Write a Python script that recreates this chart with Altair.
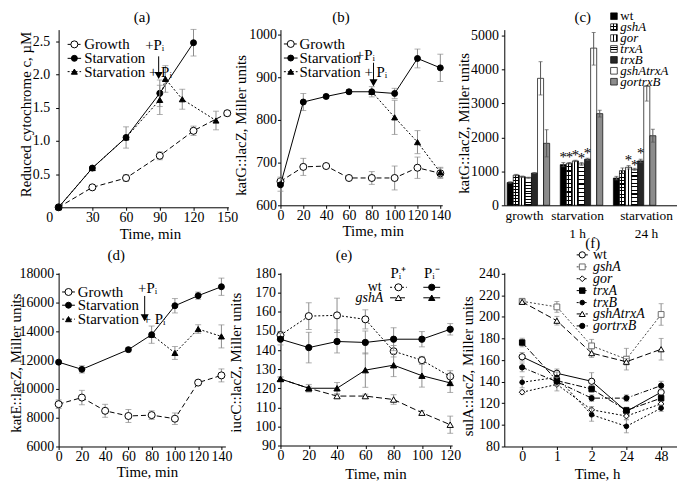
import json
import altair as alt
import pandas as pd

FONT = "Liberation Serif"
PI = "P\u1d62"
EB = "#8c8c8c"
EB_C = "#555555"

# ---------------- panel (a) ----------------
A_T_GROWTH = [0, 30, 60, 90, 120, 150]
A_GROWTH = [0.0, 0.30, 0.44, 0.775, 1.15, 1.415]
A_GROWTH_ERR = [0, 0.02, 0.05, 0.06, 0.07, 0.04]
A_T_STARV = [0, 30, 60, 90, 120]
A_STARV = [0.0, 0.59, 1.05, 1.715, 2.475]
A_STARV_ERR = [0, 0.02, 0.16, 0.20, 0.20]
A_T_STARVP = [0, 30, 60, 90, 95, 110, 140]
A_STARVP = [0.0, 0.59, 1.05, 1.615, 1.93, 1.625, 1.305]
A_STARVP_ERR = [0, 0, 0, 0.22, 0.20, 0.15, 0.14]

# ---------------- panel (b) ----------------
B_T = [0, 20, 40, 60, 80, 100, 120, 140]
B_GROWTH = [656, 690, 692, 664, 664, 664, 688, 675]
B_GROWTH_ERR = [10, 20, 5, 4, 15, 28, 25, 12]
B_STARV = [648, 842, 855, 866, 866, 862, 944, 922]
B_STARV_ERR = [15, 20, 5, 5, 12, 12, 22, 32]
B_T_STARVP = [80, 100, 120, 140]
B_STARVP = [866, 806, 748, 677]
B_STARVP_ERR = [0, 40, 27, 12]

# ---------------- panel (c) ----------------
C_GROUPS = ["growth", "starvation|1 h", "starvation|24 h"]
C_GENOS = ["wt", "gshA", "gor", "trxA", "trxB", "gshAtrxA", "gortrxB"]
C_WT = [673, 1198, 802]
C_GSHA = [891, 1238, 1020]
C_GOR = [842, 1307, 1119]
C_TRXA = [812, 1218, 1059]
C_TRXB = [950, 1356, 1307]
C_GSHATRXA = [3740, 4630, 3510]
C_GORTRXB = [1826, 2700, 2050]
C_WT_ERR = [20, 60, 50]
C_GSHA_ERR = [20, 25, 80]
C_GOR_ERR = [20, 20, 50]
C_TRXA_ERR = [15, 40, 30]
C_TRXB_ERR = [15, 30, 50]
C_GSHATRXA_ERR_LO = [490, 500, 440]
C_GSHATRXA_ERR_HI = [490, 460, 10]
C_GORTRXB_ERR = [400, 100, 190]
C_STAR_GROUP = ["starvation|1 h"] * 5 + ["starvation|24 h"] * 3
C_STAR_GENO = ["wt", "gshA", "gor", "trxA", "trxB", "gor", "trxA", "trxB"]
C_STAR_Y = [1515, 1515, 1554, 1475, 1614, 1416, 1287, 1614]
C_LEG_Y = [5570, 5248, 4927, 4605, 4284, 3962, 3640]

# ---------------- panel (d) ----------------
D_T = [0, 20, 40, 60, 80, 100, 120, 140]
D_GROWTH = [8940, 9400, 8480, 8120, 8180, 7930, 10440, 10940]
D_GROWTH_ERR = [300, 500, 450, 450, 300, 400, 150, 450]
D_T_STARV = [0, 20, 60, 80, 100, 120, 140]
D_STARV = [11860, 11360, 12730, 13770, 15780, 16480, 17100]
D_STARV_ERR = [100, 250, 150, 600, 500, 250, 600]
D_T_STARVP = [80, 100, 120, 140]
D_STARVP = [13770, 12500, 14160, 13650]
D_STARVP_ERR = [0, 450, 300, 800]

# ---------------- panel (e) ----------------
E_T = [0, 20, 40, 60, 80, 100, 120]
E_WT_P = [147.8, 157.8, 158.2, 156.1, 139.4, 134.7, 126.2]
E_WT_P_ERR = [2, 7, 9, 5, 3, 2, 3]
E_WT_M = [145.7, 141.3, 144.5, 144.0, 145.7, 145.7, 150.9]
E_WT_M_ERR = [3, 8, 6, 6, 6, 4, 3]
E_GSH_P = [124.9, 120.0, 115.9, 115.9, 114.1, 107.2, 100.9]
E_GSH_P_ERR = [1, 1, 1, 1, 2.5, 1, 4.5]
E_GSH_M = [124.9, 120.0, 120.0, 129.5, 132.1, 126.6, 122.8]
E_GSH_M_ERR = [1, 2, 3, 9, 6, 6, 5]

# ---------------- panel (f) ----------------
F_X = [0, 1, 2, 3, 4]
F_LABELS = ["0", "1", "2", "24", "48"]
F_NAMES = ["wt", "gshA", "gor", "trxA", "trxB", "gshAtrxA", "gortrxB"]
F_WT = [163.1, 147.8, 140.4, 112.5, 130.3]
F_GSHA = [214.5, 209.3, 173.2, 160.9, 202.3]
F_GOR = [130.3, 137.5, 114.0, 108.2, 119.5]
F_TRXA = [176.3, 141.0, 133.3, 113.4, 124.8]
F_TRXB = [139.5, 144.0, 109.4, 98.7, 115.5]
F_GSHATRXA = [214.0, 196.5, 166.5, 158.5, 170.1]
F_GORTRXB = [153.3, 140.0, 124.8, 124.8, 136.4]
F_WT_ERR = [4, 4, 8, 3, 4]
F_GSHA_ERR = [2, 5, 6, 10, 10]
F_GOR_ERR = [2, 6, 3, 3, 3]
F_TRXA_ERR = [4, 4, 3, 3, 3]
F_TRXB_ERR = [5, 5, 6, 6, 3]
F_GSHATRXA_ERR = [2, 4, 4, 3, 10]
F_GORTRXB_ERR = [4, 4, 3, 3, 4]
F_LEG_Y = [257.5, 246.4, 235.4, 224.4, 213.3, 202.8, 191.7]

# ---------------- styles ----------------
S_GROWTH = dict(dash=[5, 3], shape="circle", fill="white", stroke="black", size=50)
S_STARV = dict(dash=None, shape="circle", fill="black", stroke="black", size=36)
S_STARVP = dict(dash=[2, 2], shape="triangle-up", fill="black", stroke="black", size=36)


def stripes(n, along_y, light="white", dark="black", duty=0.35):
    stops = []
    for i in range(n):
        a = i / n
        m = (i + 1 - duty) / n
        b = (i + 1) / n
        stops += [alt.GradientStop(offset=a, color=light), alt.GradientStop(offset=m, color=light),
                  alt.GradientStop(offset=m, color=dark), alt.GradientStop(offset=b, color=dark)]
    return alt.LinearGradient(gradient="linear", stops=stops, x1=0, y1=0,
                              x2=0 if along_y else 1, y2=1 if along_y else 0)


def xq(scale, axis):
    return lambda f: alt.X(f"{f}:Q", scale=scale, axis=axis)


def yq(scale, axis):
    return lambda f: alt.Y(f"{f}:Q", scale=scale, axis=axis)


def series(t, y, err, st, X, Y, cap=6):
    df = pd.DataFrame({"t": t, "y": y, "e": err})
    base = alt.Chart(df)
    eb = base.transform_filter("datum.e > 0").transform_calculate(
        lo="datum.y - datum.e", hi="datum.y + datum.e")
    out = [eb.mark_rule(color=EB, strokeWidth=1).encode(x=X("t"), y=Y("lo"), y2="hi:Q")]
    for f in ("lo", "hi"):
        out.append(eb.mark_tick(color=EB, size=cap, thickness=1, orient="horizontal")
                   .encode(x=X("t"), y=Y(f)))
    kw = {"color": st.get("line", "black"), "strokeWidth": 1}
    if st.get("dash"):
        kw["strokeDash"] = st["dash"]
    out.append(base.mark_line(**kw).encode(x=X("t"), y=Y("y")))
    out.append(base.mark_point(shape=st["shape"], filled=True, fill=st["fill"], stroke=st["stroke"],
                               strokeWidth=1, size=st["size"], opacity=1)
               .encode(x=X("t"), y=Y("y")))
    return out


def legend_entry(x0, x1, y, st, X, Y, xt=None, label=None, fs=15, italic=False):
    df = pd.DataFrame({"x0": [x0], "x1": [x1], "xm": [(x0 + x1) / 2], "xt": [xt], "y": [y],
                       "label": [label or ""]})
    base = alt.Chart(df)
    kw = {"color": st.get("line", "black"), "strokeWidth": 1}
    if st.get("dash"):
        kw["strokeDash"] = st["dash"]
    out = [base.mark_rule(**kw).encode(x=X("x0"), x2="x1:Q", y=Y("y")),
           base.mark_point(shape=st["shape"], filled=True, fill=st["fill"], stroke=st["stroke"],
                           strokeWidth=1, size=st["size"], opacity=1).encode(x=X("xm"), y=Y("y"))]
    if label:
        out.append(base.mark_text(align="left", baseline="middle", fontSize=fs, font=FONT,
                                  fontStyle="italic" if italic else "normal", fill="black")
                   .encode(x=X("xt"), y=Y("y"), text="label:N"))
    return out


def text_at(x, y, text, X, Y, fs=15, align="left", italic=False, dy=0):
    df = pd.DataFrame({"x": [x], "y": [y], "label": [text]})
    return alt.Chart(df).mark_text(align=align, baseline="middle", fontSize=fs, font=FONT, dy=dy,
                                   fontStyle="italic" if italic else "normal", fill="black") \
        .encode(x=X("x"), y=Y("y"), text="label:N")


def arrow(x, y0, y1, X, Y):
    df = pd.DataFrame({"x": [x], "y0": [y0], "y1": [y1]})
    b = alt.Chart(df)
    return [b.mark_rule(color="black", strokeWidth=1).encode(x=X("x"), y=Y("y0"), y2="y1:Q"),
            b.mark_point(shape="triangle-down", filled=True, fill="black", stroke="black",
                         size=22, opacity=1).encode(x=X("x"), y=Y("y1"))]


def yaxis(values, title, tx, ty, pad, fmt="d"):
    return alt.Axis(values=values, format=fmt, title=title, titleX=tx, titleY=ty, orient="left",
                    titleBaseline="middle", titleAlign="center", labelPadding=pad)


def xaxis(values, title, tx, ty, label_expr=None):
    kw = dict(values=values, title=title, titleX=tx, titleY=ty, titleBaseline="middle", orient="bottom",
              titleAlign="center", labelPadding=0, labelAngle=0)
    if label_expr:
        kw["labelExpr"] = label_expr
    return alt.Axis(**kw)


# ================= (a) =================
A_W, A_H = 171, 179
A_TOP = 2.672
X = xq(alt.Scale(domain=[0, 151], nice=False, zero=False),
       xaxis([0, 30, 60, 90, 120, 150], "Time, min", 92, 26, "datum.value == 0 ? '' : datum.label"))
Y = yq(alt.Scale(domain=[0, A_TOP], nice=False),
       yaxis([0.5, 1.0, 1.5, 2.0, 2.5], "Reduced cytochrome c, \u00b5M", -33, 85, 6, ".1f"))
layers = []
layers += series(A_T_GROWTH, A_GROWTH, A_GROWTH_ERR, S_GROWTH, X, Y)
layers += series(A_T_STARV, A_STARV, A_STARV_ERR, S_STARV, X, Y)
layers += series(A_T_STARVP, A_STARVP, A_STARVP_ERR, S_STARVP, X, Y)
for lab, yy, st in zip(["Growth", "Starvation", "Starvation + " + PI], [2.45, 2.24, 2.04],
                       [S_GROWTH, S_STARV, S_STARVP]):
    layers += legend_entry(8, 20, yy, st, X, Y, xt=22.7, label=lab)
layers.append(text_at(77, 2.44, "+" + PI, X, Y))
layers += arrow(89, 2.27, 1.99, X, Y)
layers.append(text_at(-8, 0, "0", X, Y, fs=14, align="center", dy=11))
layers.append(text_at(74.2, A_TOP, "(a)", X, Y, align="center", dy=-12.5))
panel_a = alt.layer(*layers).properties(width=A_W, height=A_H)

# ================= (b) =================
B_W, B_H = 163, 177
B_TOP = 1011.6
X = xq(alt.Scale(domain=[0, 141.7], nice=False, zero=False),
       xaxis(B_T, "Time, min", 93, 25))
Y = yq(alt.Scale(domain=[600, B_TOP], nice=False, zero=False),
       yaxis([600, 700, 800, 900, 1000], "katG::lacZ, Miller units", -40, 96, 1))
layers = []
layers += series(B_T, B_GROWTH, B_GROWTH_ERR, S_GROWTH, X, Y)
layers += series(B_T, B_STARV, B_STARV_ERR, S_STARV, X, Y)
layers += series(B_T_STARVP, B_STARVP, B_STARVP_ERR, S_STARVP, X, Y)
for lab, yy, st in zip(["Growth", "Starvation", "Starvation + " + PI], [978, 945, 913],
                       [S_GROWTH, S_STARV, S_STARVP]):
    layers += legend_entry(3, 15, yy, st, X, Y, xt=16.7, label=lab)
layers.append(text_at(66, 953, "+" + PI, X, Y))
layers += arrow(81.5, 934, 888, X, Y)
layers.append(text_at(53, B_TOP, "(b)", X, Y, align="center", dy=-12.5))
panel_b = alt.layer(*layers).properties(width=B_W, height=B_H)

# ================= (c) =================
C_W, C_H = 174, 177
C_TOP = 5175
C_VALS = [C_WT, C_GSHA, C_GOR, C_TRXA, C_TRXB, C_GSHATRXA, C_GORTRXB]
C_LO = [C_WT_ERR, C_GSHA_ERR, C_GOR_ERR, C_TRXA_ERR, C_TRXB_ERR, C_GSHATRXA_ERR_LO, C_GORTRXB_ERR]
C_HI = [C_WT_ERR, C_GSHA_ERR, C_GOR_ERR, C_TRXA_ERR, C_TRXB_ERR, C_GSHATRXA_ERR_HI, C_GORTRXB_ERR]
# bar fills (hatch patterns approximated with striped gradients)
C_BAR_FILL = {
    "wt": ["black"],
    "gshA": [stripes(2, False), stripes(10, True, light="rgba(0,0,0,0)", duty=0.3)],
    "gor": [stripes(2, False)],
    "trxA": [stripes(10, True, duty=0.3)],
    "trxB": ["#262626"],
    "gshAtrxA": ["white"],
    "gortrxB": ["#8c8c8c"],
}
C_LEG_FILL = {
    "wt": ["black"],
    "gshA": [stripes(2, False), stripes(2, True, light="rgba(0,0,0,0)", duty=0.3)],
    "gor": [stripes(2, False)],
    "trxA": [stripes(3, True, duty=0.3)],
    "trxB": ["#262626"],
    "gshAtrxA": ["white"],
    "gortrxB": ["#8c8c8c"],
}
rows = []
for gi, g in enumerate(C_GROUPS):
    for geno, vals, lo, hi in zip(C_GENOS, C_VALS, C_LO, C_HI):
        rows.append({"group": g, "geno": geno, "v": vals[gi],
                     "lo": vals[gi] - lo[gi], "hi": vals[gi] + hi[gi]})
cdf = pd.DataFrame(rows)
cx_axis = alt.Axis(title=None, labelExpr="split(datum.label, '|')", tickSize=0, labelPadding=3,
                   labelLineHeight=18, labelAngle=0, labelFontSize=13.5, orient="bottom",
                   labelOffset={"condition": {"test": "datum.value == 'starvation|24 h'", "value": 12},
                                "value": -4})
CX = alt.X("group:N", sort=C_GROUPS,
           scale=alt.Scale(domain=C_GROUPS, paddingInner=0.2, paddingOuter=0.226, align=0.12),
           axis=cx_axis)
CXO = alt.XOffset("geno:N", sort=C_GENOS, scale=alt.Scale(domain=C_GENOS))
cy_axis = yaxis([0, 1000, 2000, 3000, 4000, 5000], "katG::lacZ, Miller units", -41, 94, 3)
CYS = alt.Scale(domain=[0, C_TOP], nice=False)
CY = lambda f: alt.Y(f"{f}:Q", scale=CYS, axis=cy_axis)
bar_layers = []
for geno in C_GENOS:
    fills = C_BAR_FILL[geno]
    for k, fl in enumerate(fills):
        bar_layers.append(
            alt.Chart(cdf).transform_filter(alt.datum.geno == geno).mark_bar(
                fill=fl, stroke="black" if k == len(fills) - 1 else None, strokeWidth=0.7
            ).encode(x=CX, xOffset=CXO, y=CY("v")))
cerr = alt.Chart(cdf).mark_rule(color=EB_C, strokeWidth=1).encode(x=CX, xOffset=CXO, y=CY("lo"), y2="hi:Q")
ccap1 = alt.Chart(cdf).mark_tick(color=EB_C, size=4, thickness=1, orient="horizontal").encode(
    x=CX, xOffset=CXO, y=CY("lo"))
ccap2 = alt.Chart(cdf).mark_tick(color=EB_C, size=4, thickness=1, orient="horizontal").encode(
    x=CX, xOffset=CXO, y=CY("hi"))
sdf = pd.DataFrame({"group": C_STAR_GROUP, "geno": C_STAR_GENO, "sy": C_STAR_Y})
stars = alt.Chart(sdf).mark_text(text="*", fontSize=15, font=FONT, baseline="middle", dy=3,
                                 fill="black").encode(x=CX, xOffset=CXO, y=CY("sy"))
cleg = pd.DataFrame({"geno": C_GENOS, "ly": C_LEG_Y, "lx": [0.635] * 7, "tx": [0.672] * 7})
LXS = alt.Scale(domain=[0, 1], nice=False, zero=False)
LX = lambda f: alt.X(f"{f}:Q", scale=LXS, axis=None)
leg_layers = []
for geno in C_GENOS:
    fills = C_LEG_FILL[geno]
    for k, fl in enumerate(fills):
        leg_layers.append(
            alt.Chart(cleg).transform_filter(alt.datum.geno == geno).mark_point(
                shape="square", filled=True, fill=fl, stroke="black" if k == len(fills) - 1 else None,
                strokeWidth=0.7, size=45, opacity=1).encode(x=LX("lx"), y=CY("ly")))
leg_layers.append(alt.Chart(cleg).transform_filter("datum.geno == 'wt'").mark_text(
    align="left", baseline="middle", fontSize=13, font=FONT, fill="black").encode(
    x=LX("tx"), y=CY("ly"), text="geno:N"))
leg_layers.append(alt.Chart(cleg).transform_filter("datum.geno != 'wt'").mark_text(
    align="left", baseline="middle", fontSize=13, font=FONT, fontStyle="italic", fill="black").encode(
    x=LX("tx"), y=CY("ly"), text="geno:N"))
leg_layers.append(text_at(0.454, C_TOP, "(c)", LX, CY, align="center", dy=-12.5))
panel_c = alt.layer(
    alt.layer(*bar_layers, cerr, ccap1, ccap2, stars),
    alt.layer(*leg_layers),
).resolve_scale(x="independent").properties(width=C_W, height=C_H)

# ================= (d) =================
D_W, D_H = 168, 175
D_TOP = 18069
X = xq(alt.Scale(domain=[0, 143.4], nice=False, zero=False), xaxis(D_T, "Time, min", 89, 25))
Y = yq(alt.Scale(domain=[6000, D_TOP], nice=False, zero=False),
       yaxis([6000, 8000, 10000, 12000, 14000, 16000, 18000], "katE::lacZ, Miller units", -43.5, 90.5, 2))
layers = []
layers += series(D_T, D_GROWTH, D_GROWTH_ERR, S_GROWTH, X, Y)
layers += series(D_T_STARV, D_STARV, D_STARV_ERR, S_STARV, X, Y)
layers += series(D_T_STARVP, D_STARVP, D_STARVP_ERR, S_STARVP, X, Y)
for lab, yy, st in zip(["Growth", "Starvation", "Starvation + " + PI], [16736, 15816, 14850],
                       [S_GROWTH, S_STARV, S_STARVP]):
    layers += legend_entry(3, 14, yy, st, X, Y, xt=16.5, label=lab)
layers.append(text_at(68.3, 17034, "+" + PI, X, Y))
layers += arrow(74, 16460, 14980, X, Y)
layers.append(text_at(49.5, D_TOP, "(d)", X, Y, align="center", dy=-18))
panel_d = alt.layer(*layers).properties(width=D_W, height=D_H)

# ================= (e) =================
E_W, E_H = 173, 174
E_TOP = 180.5
S_WT_P = dict(dash=[2, 2], shape="circle", fill="white", stroke="black", size=50)
S_WT_M = dict(dash=None, shape="circle", fill="black", stroke="black", size=40)
S_GSH_P = dict(dash=[6, 3], shape="triangle-up", fill="white", stroke="black", size=40)
S_GSH_M = dict(dash=None, shape="triangle-up", fill="black", stroke="black", size=40)
X = xq(alt.Scale(domain=[0, 121.4], nice=False, zero=False), xaxis(E_T, "Time, min", 95.7, 28))
Y = yq(alt.Scale(domain=[90, E_TOP], nice=False, zero=False),
       yaxis(list(range(90, 181, 10)), "iucC::lacZ, Miller units", -45, 90, 2))
layers = []
layers += series(E_T, E_WT_P, E_WT_P_ERR, S_WT_P, X, Y)
layers += series(E_T, E_WT_M, E_WT_M_ERR, S_WT_M, X, Y)
layers += series(E_T, E_GSH_P, E_GSH_P_ERR, S_GSH_P, X, Y)
layers += series(E_T, E_GSH_M, E_GSH_M_ERR, S_GSH_M, X, Y)
layers.append(text_at(83.4, 180.4, PI + "\u207a", X, Y, align="center"))
layers.append(text_at(107, 180.4, PI + "\u207b", X, Y, align="center"))
layers.append(text_at(71.5, 172.9, "wt", X, Y, fs=14, align="right"))
layers.append(text_at(72.7, 167.4, "gshA", X, Y, fs=14, align="right", italic=True))
layers += legend_entry(77.5, 89.3, 172.9, S_WT_P, X, Y)
layers += legend_entry(101, 112.9, 172.9, S_WT_M, X, Y)
layers += legend_entry(77.5, 89.3, 167.4, S_GSH_P, X, Y)
layers += legend_entry(101, 112.9, 167.4, S_GSH_M, X, Y)
layers.append(text_at(44.9, E_TOP, "(e)", X, Y, align="center", dy=-18))
panel_e = alt.layer(*layers).properties(width=E_W, height=E_H)

# ================= (f) =================
F_W, F_H = 174, 175
F_TOP = 240.9
F_STYLES = [
    dict(dash=None, shape="circle", fill="white", stroke="black", size=40),
    dict(dash=[2, 2], shape="square", fill="white", stroke="#6e6e6e", size=34, line="#444444"),
    dict(dash=[2, 2], shape="diamond", fill="white", stroke="black", size=34),
    dict(dash=[6, 2, 2, 2], shape="square", fill="black", stroke="black", size=30),
    dict(dash=[2, 2], shape="circle", fill="black", stroke="black", size=22),
    dict(dash=[6, 3], shape="triangle-up", fill="white", stroke="black", size=36),
    dict(dash=[5, 2, 1, 2], shape="circle", fill="black", stroke="black", size=28),
]
F_VALS = [F_WT, F_GSHA, F_GOR, F_TRXA, F_TRXB, F_GSHATRXA, F_GORTRXB]
F_ERRS = [F_WT_ERR, F_GSHA_ERR, F_GOR_ERR, F_TRXA_ERR, F_TRXB_ERR, F_GSHATRXA_ERR, F_GORTRXB_ERR]
f_expr = json.dumps(F_LABELS) + "[datum.value]"
X = xq(alt.Scale(domain=[-0.514, 4.457], nice=False, zero=False),
       xaxis(F_X, "Time, h", 93.5, 27, f_expr))
Y = yq(alt.Scale(domain=[80, F_TOP], nice=False, zero=False),
       yaxis(list(range(80, 241, 20)), "sulA::lacZ, Miller units", -37, 93.7, 2))
layers = []
for vals, errs, st in zip(F_VALS, F_ERRS, F_STYLES):
    layers += series(F_X, vals, errs, st, X, Y, cap=5)
for name, yy, st in zip(F_NAMES, F_LEG_Y, F_STYLES):
    layers += legend_entry(1.57, 1.89, yy, st, X, Y, xt=2.04, label=name, fs=14,
                           italic=(name != "wt"))
layers.append(text_at(2.03, F_TOP, "(f)", X, Y, align="center", dy=-30))
panel_f = alt.layer(*layers).properties(width=F_W, height=F_H)

chart = alt.concat(panel_a, panel_b, panel_c, panel_d, panel_e, panel_f, columns=3,
                   spacing={"row": 66, "column": 52.5}, bounds="flush", align="each").properties(
    padding={"left": 0, "right": 0, "top": 0, "bottom": 0})
chart = chart.configure(font=FONT).configure_view(stroke=None).configure_axis(
    grid=False, domainColor="black", tickColor="black", labelColor="black", titleColor="black",
    labelFont=FONT, titleFont=FONT, labelFontSize=14, titleFontSize=15, titleFontWeight="normal",
    tickSize=3, labelOverlap=False, labelFlush=False, labelBound=False, domainWidth=1, tickWidth=1
).configure_text(font=FONT).configure_title(font=FONT, fontWeight="normal", fontSize=15, color="black")

chart.save("out.html", embed_options={"renderer": "svg", "actions": False})
